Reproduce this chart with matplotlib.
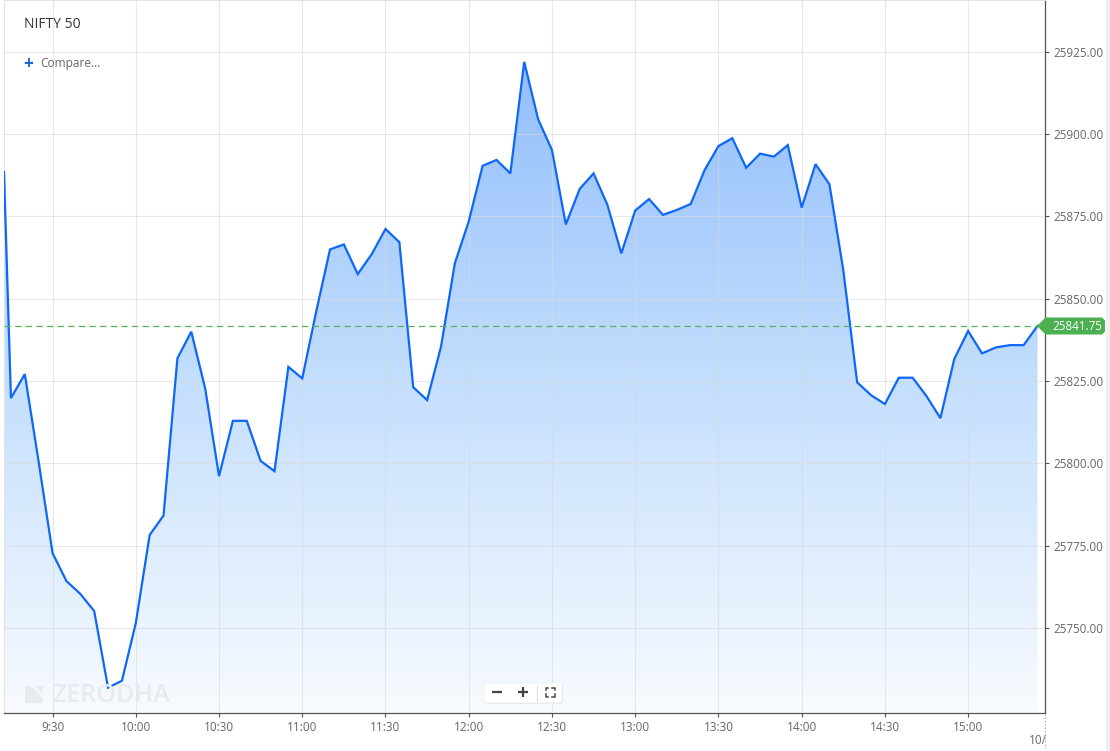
import matplotlib
matplotlib.use("Agg")
import matplotlib.pyplot as plt
import numpy as np
from matplotlib.patches import Polygon, FancyBboxPatch, Rectangle
from matplotlib.colors import LinearSegmentedColormap
from matplotlib.transforms import Affine2D
from matplotlib.lines import Line2D

plt.rcParams['font.family'] = ['Open Sans', 'DejaVu Sans']

# ---------------- data ----------------
# minutes after 09:15 (first point is the carried-in value just before the open)
minutes = [-2.5] + list(range(0, 371, 5))
prices = [25888.5,
          25819.8, 25827.1, 25800.4, 25772.7, 25764.2, 25760.3, 25755.1, 25731.8, 25733.9, 25751.4,
          25778.2, 25784.1, 25831.9, 25840.0, 25822.8, 25796.1, 25812.9, 25812.9, 25800.7, 25797.6,
          25829.3, 25825.8, 25846.0, 25865.0, 25866.5, 25857.5, 25863.5, 25871.2, 25867.2, 25823.1,
          25819.2, 25835.4, 25860.8, 25873.5, 25890.4, 25892.2, 25888.1, 25922.0, 25904.6, 25895.2,
          25872.6, 25883.4, 25888.1, 25878.5, 25863.8, 25876.8, 25880.3, 25875.5, 25877.0, 25878.8,
          25889.1, 25896.4, 25898.8, 25889.8, 25894.1, 25893.2, 25896.7, 25877.7, 25890.9, 25884.8,
          25858.7, 25824.6, 25820.7, 25818.0, 25826.0, 25826.0, 25820.4, 25813.7, 25831.7, 25840.2,
          25833.4, 25835.2, 25835.9, 25835.9, 25841.75]
last_price = 25841.75
xtick_minutes = [15, 45, 75, 105, 135, 165, 195, 225, 255, 285, 315, 345]
xtick_labels = ["9:30", "10:00", "10:30", "11:00", "11:30", "12:00", "12:30",
                "13:00", "13:30", "14:00", "14:30", "15:00"]
ytick_values = [25750, 25775, 25800, 25825, 25850, 25875, 25900, 25925]

# ---------------- figure ----------------
W, H = 1110, 751
fig = plt.figure(figsize=(W / 100, H / 100), dpi=100)
px = Affine2D().scale(1 / W, -1 / H).translate(0, 1) + fig.transFigure

ax = fig.add_axes([4 / W, 1 - 713 / H, (1045 - 4) / W, 713 / H])
x0, x1 = -2.5, 372.7
y0, y1 = 25724.1, 25940.8
ax.set_xlim(x0, x1)
ax.set_ylim(y0, y1)

# gradient fill under the line
cmap = LinearSegmentedColormap.from_list("g", [(0.0, "#f8fbff"), (0.5, "#c0dcfd"), (1.0, "#88b8fb")])
grad = np.linspace(0, 1, 256).reshape(-1, 1)
im = ax.imshow(grad, extent=[x0, x1, y0, y1], origin="lower", aspect="auto",
               cmap=cmap, zorder=1, interpolation="bicubic")
poly = ax.fill_between(minutes, prices, y0, facecolor="none", edgecolor="none")
im.set_clip_path(poly.get_paths()[0], transform=ax.transData)

ax.plot(minutes, prices, color="#0d67f7", lw=1.6, zorder=3, solid_joinstyle="miter")
ax.axhline(last_price, color="#52b455", lw=0.9, ls=(0, (5, 3.5)), zorder=4)

# grid & axes
ax.set_xticks(xtick_minutes)
ax.set_xticklabels(xtick_labels)
ax.set_yticks(ytick_values)
ax.set_yticklabels([f"{v:.2f}" for v in ytick_values])
ax.yaxis.tick_right()
ax.set_axisbelow(False)
ax.grid(True, color="#d9d9d9", alpha=0.6, lw=0.8)
ax.tick_params(axis="x", colors="#555555", labelcolor="#666666", labelsize=8.5,
               length=3, width=0.8, pad=3)
ax.tick_params(axis="y", colors="#555555", labelcolor="#666666", labelsize=8.4,
               length=3, width=0.8, pad=3)
for s in ["bottom", "right"]:
    ax.spines[s].set_color("#555555")
    ax.spines[s].set_linewidth(0.9)
for s in ["top", "left"]:
    ax.spines[s].set_color("#e4e4e4")
    ax.spines[s].set_linewidth(0.8)

# ---------------- decorations (pixel coords, top-left origin) ----------------
fig.text(24 / W, 1 - 24 / H, "NIFTY 50", fontsize=10, color="#333333", va="center", ha="left")
fig.text(28 / W, 1 - 64 / H, "+", fontsize=12.5, color="#1a66d6", va="center", ha="center",
         fontweight="bold")
fig.text(40 / W, 1 - 64 / H, "Compare...", fontsize=8.6, color="#666666", va="center", ha="left")

# watermark
wm = "#e7ebef"
fig.patches.append(Polygon([(25, 686), (31, 686), (43, 698), (43, 703), (25, 703)],
                           closed=True, transform=px, facecolor=wm, edgecolor="none", zorder=5))
fig.patches.append(Polygon([(35, 686), (43, 686), (43, 694)],
                           closed=True, transform=px, facecolor=wm, edgecolor="none", zorder=5))
fig.text(52 / W, 1 - 695 / H, "ZERODHA", fontsize=18, color=wm, va="center", ha="left",
         fontweight="semibold", zorder=5)

# zoom controls
fig.patches.append(FancyBboxPatch((485, 684), 78, 20, boxstyle="round,pad=0,rounding_size=3",
                                  transform=px, facecolor="#e6e6e6", edgecolor="none", zorder=5))
fig.patches.append(FancyBboxPatch((484, 683), 78, 20, boxstyle="round,pad=0,rounding_size=3",
                                  transform=px, facecolor="white", edgecolor="#f0f0f0", lw=0.6, zorder=6))
fig.lines.append(Line2D([492, 502], [692, 692], transform=px, color="#444444", lw=1.6,
                        solid_capstyle="butt", zorder=7))
fig.lines.append(Line2D([518, 528], [692, 692], transform=px, color="#444444", lw=1.6,
                        solid_capstyle="butt", zorder=7))
fig.lines.append(Line2D([523, 523], [687, 697], transform=px, color="#444444", lw=1.6,
                        solid_capstyle="butt", zorder=7))
fig.lines.append(Line2D([537, 537], [685, 701], transform=px, color="#dddddd", lw=0.8, zorder=7))
cx, cy, r, k = 550, 692, 4.5, 2.5
for sx in (-1, 1):
    for sy in (-1, 1):
        fig.lines.append(Line2D([cx + sx * r, cx + sx * r, cx + sx * (r - k)],
                                [cy + sy * (r - k), cy + sy * r, cy + sy * r],
                                transform=px, color="#444444", lw=1.1, zorder=7))

# last price tag
tag = Polygon([(1037, 326), (1045.5, 317.5), (1102, 317.5), (1105, 320.5), (1105, 331.5),
               (1102, 334.5), (1045.5, 334.5)], closed=True, transform=px,
              facecolor="#4caf50", edgecolor="none", zorder=8)
fig.patches.append(tag)
fig.text(1077 / W, 1 - 326.5 / H, f"{last_price:.2f}", fontsize=8.4, color="white",
         va="center", ha="center", zorder=9)

# date stub at the right end of the time axis
fig.lines.append(Line2D([1044.5, 1044.5], [714, 748], transform=px, color="#999999", lw=0.8,
                        ls=(0, (1, 2)), zorder=5))
fig.text(1029 / W, 1 - 740 / H, "10/", fontsize=8.5, color="#666666", va="center", ha="left")

# scrollbar strip
fig.patches.append(Rectangle((1106, 0), 4, 751, transform=px, facecolor="#f1f1f1",
                             edgecolor="none", zorder=1))

fig.savefig("out.png", dpi=100)
